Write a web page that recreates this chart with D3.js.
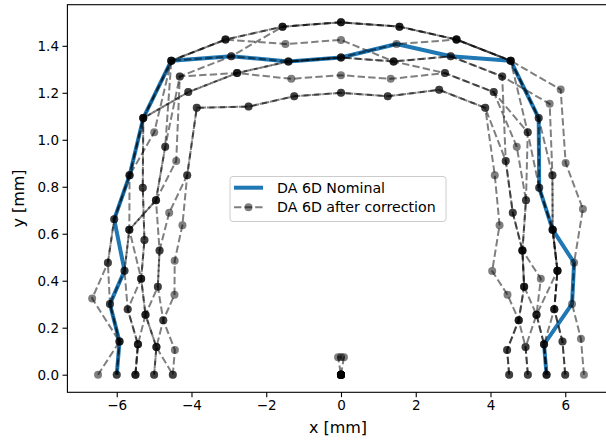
<!DOCTYPE html>
<html><head><meta charset="utf-8">
<script src="https://cdn.jsdelivr.net/npm/d3@7"></script>
<style>
body{margin:0;background:#fff}
svg{display:block}
text{font-family:"DejaVu Sans",sans-serif;fill:#000}
</style>
</head><body>
<svg id="chart" width="606" height="440"></svg>
<script>
// Ray angles (deg) along which the dynamic aperture is measured
const anglesDeg = [0,9,18,27,36,45,54,63,72,81,90,99,108,117,126,135,144,153,162,171,180];
// amplitude step size in mm (x and y)
const stepX = 0.5, stepY = 0.075;
// Nominal DA radii (in steps) per ray
const nominalR = [11,11,13,14,14,15,18,20,19,19,18,18,19,20,18,16,15,13,13,12,12];
// After-correction DA radii (in steps) per ray, one array per seed
const seedA = [12,12,12,13,14,16,18,20,20,20,20,20,20,20,18,16,15,14,13,12,12];
const seedB = [11,11,12,13,14,15,17,20,20,20,20,20,20,20,18,15,13,12,11,11,11];
const seedC = [10,10,11,11,12,14,16,18,18,18,19,19,20,20,17,16,15,14,14,12,13];
const seedD = [12,12,12,13,14,15,18,20,20,20,20,20,19,20,16,14,14,13,12,11,11];
const seedE = [11,11,11,13,14,16,19,19,19,18,18,18,19,19,15,14,14,12,12,11,11];
const seedF = [11,11,11,12,12,14,17,18,18,17,17,17,18,19,16,14,12,11,11,10,10];
const seedG = [10,10,10,11,12,13,15,19,19,18,18,18,18,18,18,16,14,13,13,12,12];
const seedH = [13,13,13,14,16,17,20,20,20,19,18,18,18,18,18,15,13,12,11,10,10];
const seedI = [9,9,10,11,12,13,15,17,17,16,16,16,16,17,14,13,12,11,10,10,9];
const seedJ = [9,9,10,10,10,12,14,17,17,16,16,16,16,17,14,12,11,10,10,9,9];
const seedK = [0,0,0,0,0,0,0,0,0,1,1,1,0,0,0,0,0,0,0,0,0];
const seeds = [seedA,seedB,seedC,seedD,seedE,seedF,seedG,seedH,seedI,seedJ,seedK];

const xTicks = [-6,-4,-2,0,2,4,6];
const yTicks = [0,0.2,0.4,0.6,0.8,1.0,1.2,1.4];
const legendLabels = ["DA 6D Nominal","DA 6D after correction"];
const xLabel = "x [mm]", yLabel = "y [mm]";

const toXY = r => r.map((ri,i)=>{
  const a = anglesDeg[i]*Math.PI/180;
  return [stepX*ri*Math.cos(a), stepY*ri*Math.sin(a)];
});

const svg = d3.select("#chart");
const L=67.4, R=608.6, T=4.7, B=392.3;
const x = d3.scaleLinear().domain([-7.32,7.16]).range([L,R]);
const y = d3.scaleLinear().domain([-0.075,1.575]).range([B,T]);

svg.append("defs").append("clipPath").attr("id","clip")
  .append("rect").attr("x",L).attr("y",T).attr("width",R-L).attr("height",B-T);

const line = d3.line().x(d=>x(d[0])).y(d=>y(d[1]));
const plot = svg.append("g").attr("clip-path","url(#clip)");

// nominal
plot.append("path").datum(toXY(nominalR)).attr("d",line)
  .attr("fill","none").attr("stroke","#1f77b4").attr("stroke-width",4)
  .attr("stroke-linejoin","round").attr("stroke-linecap","butt");

// after correction
seeds.forEach(s=>{
  const pts = toXY(s);
  const g = plot.append("g");
  g.append("path").datum(pts).attr("d",line)
    .attr("fill","none").attr("stroke","#000").attr("stroke-opacity",0.5)
    .attr("stroke-width",2).attr("stroke-dasharray","7.4,3.2");
  g.selectAll("circle").data(pts).enter().append("circle")
    .attr("cx",d=>x(d[0])).attr("cy",d=>y(d[1])).attr("r",4)
    .attr("fill","#000").attr("fill-opacity",0.5);
});

// axes
const xAxis = svg.append("g").attr("transform",`translate(0,${B})`)
  .call(d3.axisBottom(x).tickValues(xTicks).tickSize(4.9).tickPadding(3.5).tickFormat(d3.format("d")));
const yAxis = svg.append("g").attr("transform",`translate(${L},0)`)
  .call(d3.axisLeft(y).tickValues(yTicks).tickSize(4.9).tickPadding(3.5).tickFormat(d3.format(".1f")));
[xAxis,yAxis].forEach(a=>{
  a.select(".domain").remove();
  a.selectAll("line").attr("stroke","#000").attr("stroke-width",1.1);
  a.selectAll("text").attr("font-size",13.5).attr("font-family","DejaVu Sans").attr("fill","#000");
});
// spines
svg.append("rect").attr("x",L).attr("y",T).attr("width",R-L).attr("height",B-T)
  .attr("fill","none").attr("stroke","#000").attr("stroke-width",1.1);

svg.append("text").attr("x",(L+R)/2).attr("y",433).attr("text-anchor","middle")
  .attr("font-size",16).text(xLabel);
svg.append("text").attr("transform",`translate(24,${(T+B)/2}) rotate(-90)`)
  .attr("text-anchor","middle").attr("font-size",16).text(yLabel);

// legend
const lg = svg.append("g");
lg.append("rect").attr("x",230).attr("y",176.5).attr("width",216).attr("height",45)
  .attr("rx",3).attr("fill","#fff").attr("fill-opacity",0.8).attr("stroke","#ccc").attr("stroke-width",1);
lg.append("line").attr("x1",234).attr("x2",263).attr("y1",187.7).attr("y2",187.7)
  .attr("stroke","#1f77b4").attr("stroke-width",4);
lg.append("line").attr("x1",234).attr("x2",263).attr("y1",207.3).attr("y2",207.3)
  .attr("stroke","#000").attr("stroke-opacity",0.5).attr("stroke-width",2).attr("stroke-dasharray","7.4,3.2");
lg.append("circle").attr("cx",248.5).attr("cy",207.3).attr("r",4).attr("fill","#000").attr("fill-opacity",0.5);
legendLabels.forEach((t,i)=>{
  lg.append("text").attr("x",277).attr("y",[192.7,212.3][i]).attr("font-size",14.2).text(t);
});
</script>
</body></html>
